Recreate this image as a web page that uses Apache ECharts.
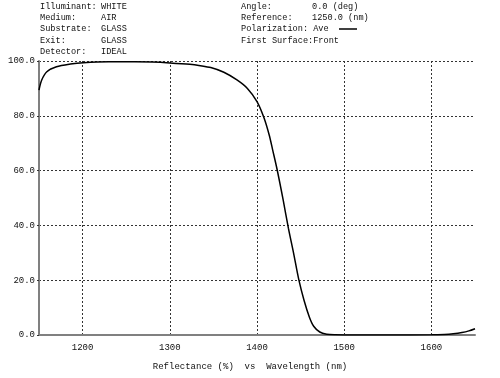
<!DOCTYPE html>
<html>
<head>
<meta charset="utf-8">
<script src="https://cdn.jsdelivr.net/npm/echarts@6/dist/echarts.min.js"></script>
<style>
html, body { margin: 0; padding: 0; background: #fff; }
#chart { width: 500px; height: 378px; }
</style>
</head>
<body>
<div id="chart"></div>
<script>
// wavelength (nm) and reflectance (%)
var wavelength = [1150, 1153, 1159, 1170, 1186, 1201, 1230, 1260, 1280, 1300,
    1323, 1335, 1347, 1362, 1377, 1389, 1400, 1408, 1414, 1418, 1423, 1430, 1436,
    1442, 1448, 1454, 1460, 1465, 1472, 1480, 1490, 1500, 1550, 1600, 1615, 1625, 1635,
    1643, 1650]
var reflectance = [89.4, 93.0, 96.1, 97.9, 98.9, 99.4, 99.7, 99.7, 99.6, 99.3,
    98.8, 98.3, 97.6, 95.9, 93.1, 90.0, 85.2, 79.3, 73.0, 67.5, 60.5, 49.3, 39.0,
    29.8, 20.1, 12.6, 6.6, 3.2, 1.1, 0.3, 0.05, 0, 0, 0.05, 0.2, 0.45, 0.9,
    1.5, 2.3]
var xTicks = [1200, 1300, 1400, 1500, 1600]

var leftLabels = ['Illuminant:', 'Medium:', 'Substrate:', 'Exit:', 'Detector:']
var leftValues = ['WHITE', 'AIR', 'GLASS', 'GLASS', 'IDEAL']
var rightLabels = ['Angle:', 'Reference:', 'Polarization: Ave', 'First Surface:Front']
var rightValues = ['0.0 (deg)', '1250.0 (nm)', '', '']
var axisTitle = 'Reflectance (%)  vs  Wavelength (nm)'

var font = '"Liberation Mono", "DejaVu Sans Mono", monospace'
var textColor = '#111'

var points = wavelength.map(function (w, i) { return [w, reflectance[i]] })

function txt(x, y, s) {
    return {
        type: 'text', left: x, top: y,
        style: { text: s, fill: textColor, font: '8.6px ' + font }
    }
}

var graphics = []
var rowY = [2, 13, 24.5, 36, 47]
leftLabels.forEach(function (s, i) {
    graphics.push(txt(40, rowY[i], s))
    graphics.push(txt(101, rowY[i], leftValues[i]))
})
rightLabels.forEach(function (s, i) {
    graphics.push(txt(241, rowY[i], s))
    if (rightValues[i]) graphics.push(txt(312, rowY[i], rightValues[i]))
})
graphics.push({
    type: 'line',
    shape: { x1: 339, y1: 29, x2: 357, y2: 29 },
    style: { stroke: '#000', lineWidth: 1.5 }
})
graphics.push({
    type: 'text', left: 'center', top: 362,
    style: { text: axisTitle, fill: textColor, font: '9px ' + font }
})

var option = {
    animation: false,
    backgroundColor: '#fff',
    grid: { left: 39, right: 25, top: 61, bottom: 43 },
    graphic: graphics,
    xAxis: {
        type: 'value',
        min: 1150,
        max: 1650,
        axisLine: { lineStyle: { color: '#808080', width: 2 } },
        axisTick: { show: false, customValues: xTicks },
        axisLabel: {
            customValues: xTicks,
            margin: 8,
            color: textColor,
            fontFamily: font,
            fontSize: 9,
            formatter: function (v) { return String(v) }
        },
        splitLine: { show: true, lineStyle: { color: '#333', type: [2, 2], width: 1 } }
    },
    yAxis: {
        type: 'value',
        min: 0,
        max: 100,
        interval: 20,
        axisLine: { show: true, lineStyle: { color: '#808080', width: 2 } },
        axisTick: { show: true, length: 4, lineStyle: { color: '#333', type: [2, 2] } },
        axisLabel: {
            margin: 4,
            color: textColor,
            fontFamily: font,
            fontSize: 9,
            formatter: function (v) { return v.toFixed(1) }
        },
        splitLine: { show: true, lineStyle: { color: '#333', type: [2, 2], width: 1 } }
    },
    series: [{
        type: 'line',
        data: points,
        smooth: 0.3,
        showSymbol: false,
        lineStyle: { color: '#000', width: 1.5 }
    }]
}

var myChart = echarts.init(document.getElementById('chart'))
myChart.setOption(option)
window.addEventListener('resize', function () {
    myChart.resize()
})
</script>
</body>
</html>
